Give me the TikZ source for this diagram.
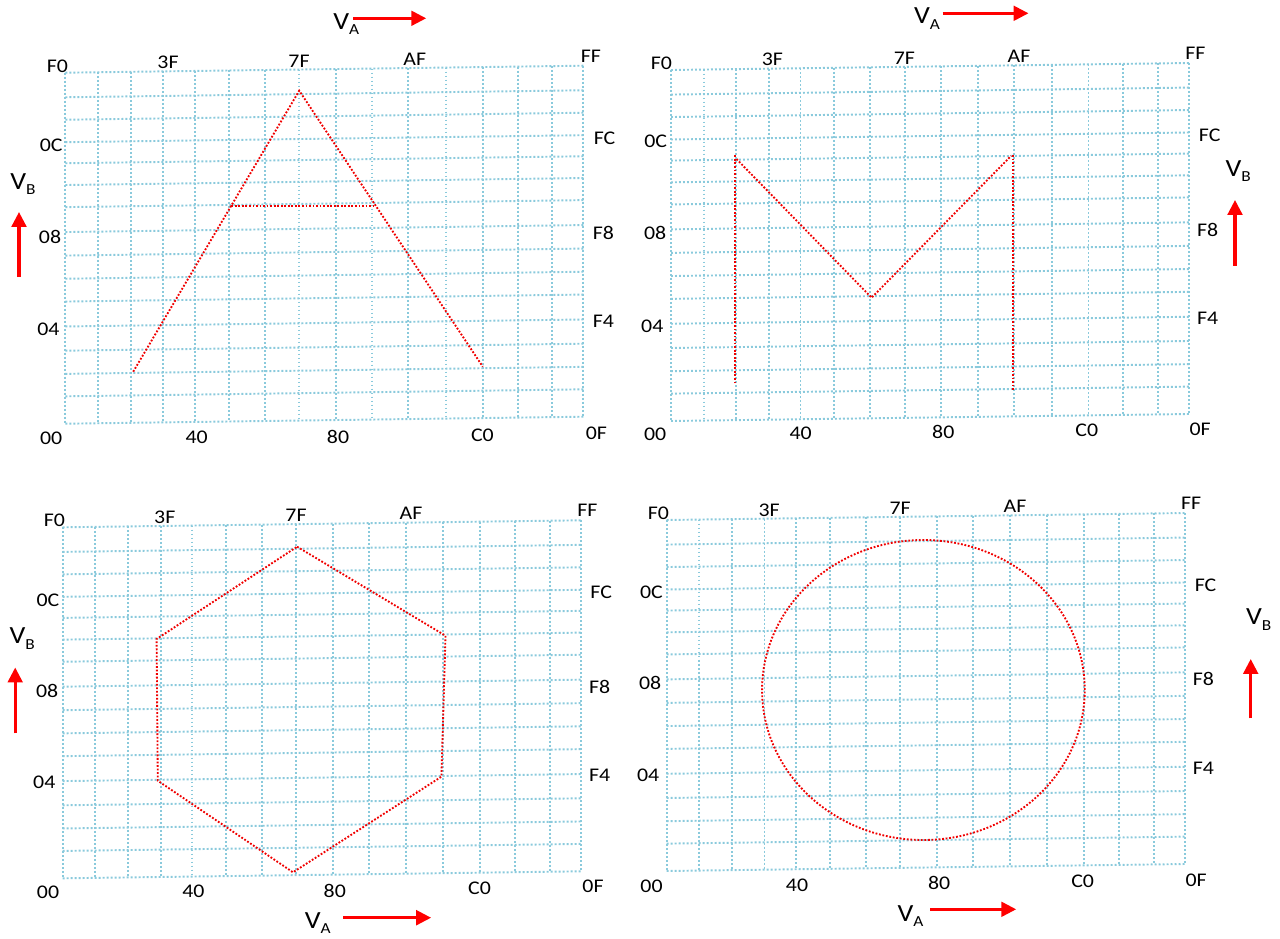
\documentclass[tikz,border=0pt]{standalone}
\usepackage{fontspec}
\setmainfont[FakeStretch=1.13]{Carlito}
\usetikzlibrary{arrows.meta}
\definecolor{gridblue}{RGB}{138,202,220}
\definecolor{shapered}{RGB}{240,0,0}
\newcommand\gridpanel[2]{%
  \foreach \u in {0,.063,.126,.189,.250,.315,.385,.451,.522,.592,.662,.735,.806,.873,.940,1}{
    \draw[gridline] ({#1+\u*518},{#2-\u*7}) -- ({#1+\u*518},{#2+351-\u*7});
  }
  \foreach \v in {0,.070,.134,.198,.258,.320,.383,.454,.521,.587,.652,.723,.792,.858,.922,1}{
    \draw[gridline] (#1,{#2+\v*351}) -- ({#1+518},{#2+\v*351-7});
  }
}
\newcommand\vlab[1]{\fontsize{18.5}{18.5}\selectfont V\raisebox{-4.2pt}{\fontsize{11.5}{11.5}\selectfont #1}}
\begin{document}
\begin{tikzpicture}[x=0.75pt,y=-0.75pt,
  gridline/.style={draw=gridblue,line width=1.45pt,dash pattern=on 1.45pt off 1.55pt},
  redline/.style={draw=shapered,line width=1.4pt,dash pattern=on 1.35pt off 1.3pt},
  lab/.style={font=\fontsize{14.5}{14.5}\selectfont,inner sep=0pt},
  vname/.style={inner sep=0pt,anchor=base west},
  vaarrow/.style={draw=red,line width=2.3pt,-{Triangle[length=11.2pt,width=11pt]}}]
\useasboundingbox (0,0) rectangle (1280,938);

% ---------- grids ----------
\gridpanel{65.4}{72.7}
\gridpanel{671}{70}
\gridpanel{62.7}{527.3}
\gridpanel{666.6}{520}

% ---------- panel 1 labels ----------
\node[lab] (p1F0) at (57.4,66.7) {F0};
\node[lab] (p13F) at (168,62.7) {3F};
\node[lab] (p17F) at (299,61) {7F};
\node[lab] (p1AF) at (414.8,59.3) {AF};
\node[lab] (p1FF) at (591,56.7) {FF};
\node[lab] (p10C) at (51.2,145.7) {0C};
\node[lab] (p108) at (50,236.7) {08};
\node[lab] (p104) at (48.4,329) {04};
\node[lab] (p100) at (51.2,438.3) {00};
\node[lab] (p140) at (196.7,437.3) {40};
\node[lab] (p180) at (338,436.7) {80};
\node[lab] (p1C0) at (482.4,435) {C0};
\node[lab] (p10F) at (596.3,433.3) {0F};
\node[lab] (p1FC) at (604.5,138.3) {FC};
\node[lab] (p1F8) at (603.3,232.7) {F8};
\node[lab] (p1F4) at (603.3,321.7) {F4};
\node[vname] (p1VA) at (333,29.3) {\vlab{A}};
\node[vname] (p1VB) at (10,189.3) {\vlab{B}};
\coordinate (p1as) at (353,18.3);
\coordinate (p1ae) at (426.2,18.3);
\coordinate (p1bs) at (19,277);
\coordinate (p1be) at (19,212);
\draw[vaarrow] (p1as) -- (p1ae);
\draw[vaarrow] (p1bs) -- (p1be);
% triangle
\coordinate (tA) at (299.2,90.7);
\coordinate (tL) at (133.2,371.7);
\coordinate (tR) at (482.8,366.7);
\coordinate (tcl) at (231.3,205.7);
\coordinate (tcr) at (375.7,205.7);
\draw[redline] (tL) -- (tA) -- (tR);
\draw[redline] (tcl) -- (tcr);

% ---------- panel 2 labels ----------
\node[lab] (p2F0) at (661.3,63.3) {F0};
\node[lab] (p23F) at (772.4,59.3) {3F};
\node[lab] (p27F) at (904.3,58.3) {7F};
\node[lab] (p2AF) at (1019,56.7) {AF};
\node[lab] (p2FF) at (1195.3,53.3) {FF};
\node[lab] (p20C) at (655.6,141.7) {0C};
\node[lab] (p208) at (655.2,233.3) {08};
\node[lab] (p204) at (652.3,326) {04};
\node[lab] (p200) at (655.2,434.3) {00};
\node[lab] (p240) at (800.7,433.3) {40};
\node[lab] (p280) at (943.3,432.3) {80};
\node[lab] (p2C0) at (1086.7,430.7) {C0};
\node[lab] (p20F) at (1200.2,429) {0F};
\node[lab] (p2FC) at (1209.7,135) {FC};
\node[lab] (p2F8) at (1207.6,230) {F8};
\node[lab] (p2F4) at (1207.6,318.3) {F4};
\node[vname] (p2VA) at (913.8,23.7) {\vlab{A}};
\node[vname] (p2VB) at (1225.3,176.3) {\vlab{B}};
\coordinate (p2as) at (942.5,13.3);
\coordinate (p2ae) at (1028.5,13.3);
\coordinate (p2bs) at (1235,265.7);
\coordinate (p2be) at (1235,200);
\draw[vaarrow] (p2as) -- (p2ae);
\draw[vaarrow] (p2bs) -- (p2be);
% M
\coordinate (mlb) at (735,383.3);
\coordinate (mlt) at (735,155);
\coordinate (mlt2) at (736.5,159);
\coordinate (mv) at (871.6,297.7);
\coordinate (mrt) at (1011,156);
\coordinate (mrt2) at (1012.8,155);
\coordinate (mrb) at (1012.8,391.7);
\draw[redline] (mlb) -- (mlt);
\draw[redline] (mlt2) -- (mv) -- (mrt);
\draw[redline] (mrt2) -- (mrb);

% ---------- panel 3 labels ----------
\node[lab] (p3F0) at (54.5,520.7) {F0};
\node[lab] (p33F) at (164.8,517.7) {3F};
\node[lab] (p37F) at (296,515.7) {7F};
\node[lab] (p3AF) at (411,513.3) {AF};
\node[lab] (p3FF) at (587.3,510.7) {FF};
\node[lab] (p30C) at (48,600) {0C};
\node[lab] (p308) at (47.1,690.7) {08};
\node[lab] (p304) at (44.3,782.7) {04};
\node[lab] (p300) at (48,892.7) {00};
\node[lab] (p340) at (193.4,891.7) {40};
\node[lab] (p380) at (334.8,891) {80};
\node[lab] (p3C0) at (479.5,888.3) {C0};
\node[lab] (p30F) at (593,886.7) {0F};
\node[lab] (p3FC) at (601.2,592.7) {FC};
\node[lab] (p3F8) at (599.6,686.7) {F8};
\node[lab] (p3F4) at (599.6,775) {F4};
\node[vname] (p3VA) at (304.5,928) {\vlab{A}};
\node[vname] (p3VB) at (9.4,643.7) {\vlab{B}};
\coordinate (p3as) at (343.4,917.7);
\coordinate (p3ae) at (431.1,917.7);
\coordinate (p3bs) at (15.2,733.3);
\coordinate (p3be) at (15.2,667.5);
\draw[vaarrow] (p3as) -- (p3ae);
\draw[vaarrow] (p3bs) -- (p3be);
% hexagon
\coordinate (h1) at (297.1,546.7);
\coordinate (h2) at (445.5,635.7);
\coordinate (h3) at (441.4,776.7);
\coordinate (h4) at (293,872.3);
\coordinate (h5) at (157.8,780.7);
\coordinate (h6) at (156.6,639);
\draw[redline] (h1) -- (h2) -- (h3) -- (h4) -- (h5) -- (h6) -- cycle;

% ---------- panel 4 labels ----------
\node[lab] (p4F0) at (658.4,513.3) {F0};
\node[lab] (p43F) at (769.1,510.7) {3F};
\node[lab] (p47F) at (900.2,508.3) {7F};
\node[lab] (p4AF) at (1015,506) {AF};
\node[lab] (p4FF) at (1191.2,503.3) {FF};
\node[lab] (p40C) at (651.5,592.7) {0C};
\node[lab] (p408) at (650.2,683.3) {08};
\node[lab] (p404) at (648.2,775) {04};
\node[lab] (p400) at (651.5,886) {00};
\node[lab] (p440) at (797,885) {40};
\node[lab] (p480) at (939.2,883.3) {80};
\node[lab] (p4C0) at (1082.6,881.7) {C0};
\node[lab] (p40F) at (1196.1,880) {0F};
\node[lab] (p4FC) at (1205.6,585) {FC};
\node[lab] (p4F8) at (1203.5,679.3) {F8};
\node[lab] (p4F4) at (1203.5,768.3) {F4};
\node[vname] (p4VA) at (897.4,921.3) {\vlab{A}};
\node[vname] (p4VB) at (1245.8,624.7) {\vlab{B}};
\coordinate (p4as) at (930.2,909.3);
\coordinate (p4ae) at (1016.2,909.3);
\coordinate (p4bs) at (1250.7,718.3);
\coordinate (p4be) at (1250.7,659);
\draw[vaarrow] (p4as) -- (p4ae);
\draw[vaarrow] (p4bs) -- (p4be);
% circle
\coordinate (cc) at (923.4,690);
\draw[redline] (cc) ellipse [x radius=121pt, y radius=112.5pt];
\end{tikzpicture}
\end{document}
